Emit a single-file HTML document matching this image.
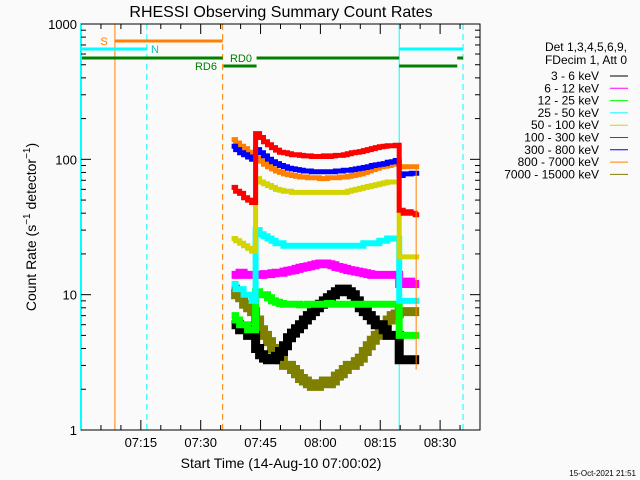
<!DOCTYPE html>
<html><head><meta charset="utf-8">
<style>
html,body{margin:0;padding:0;background:#fafafa;}
svg{display:block;font-family:"Liberation Sans","DejaVu Sans",sans-serif;}
</style></head>
<body>
<svg id="chart" width="640" height="480" viewBox="0 0 640 480">
<rect x="0" y="0" width="640" height="480" fill="#fafafa"/>
<text x="281" y="17" font-size="16" text-anchor="middle" fill="#000">RHESSI Observing Summary Count Rates</text>
<g id="marks"></g>
<g id="axes"></g>
<text transform="translate(36,227) rotate(-90)" font-size="14" text-anchor="middle">Count Rate (s<tspan font-size="10" dy="-6">−1</tspan><tspan dy="6"> detector</tspan><tspan font-size="10" dy="-6">−1</tspan><tspan dy="6">)</tspan></text>
<text x="281" y="468" font-size="14" text-anchor="middle">Start Time (14-Aug-10 07:00:02)</text>
<text x="636" y="476" font-size="8" text-anchor="end">15-Oct-2021 21:51</text>
<g id="legend"></g>
</svg>
<script>
// time bins: minutes after 07:00
const binStart = 38;
const seriesNames = ["3 - 6 keV","6 - 12 keV","12 - 25 keV","25 - 50 keV","50 - 100 keV","100 - 300 keV","300 - 800 keV","800 - 7000 keV","7000 - 15000 keV"];
const seriesColors = ["#000000","#ff00ff","#00ff00","#00ffff","#d4d400","#ff0000","#0000ff","#ff8000","#808000"];
const black = [6,6,5.5,5.5,5,5,4,3.6,3.4,3.3,3.3,3.5,3.8,4.2,4.8,5.2,5.6,6,6.5,7,7.5,8,8.5,9,9.5,10,10.5,11,11,10.5,10,9,8,7.5,7,6.5,6,6,5.5,5,5,5,3.3,3.3,3.3,3.3,3.3];
const magenta = [14,14,14.5,14,14,14,14,14,14.2,14.2,14.4,14.5,14.5,14.8,15,15.2,15.5,15.8,16,16.2,16.5,16.8,17,17,16.8,16.5,16,15.8,15.5,15.2,15,14.8,14.6,14.4,14.2,14,14,14,14,14,14,14,12,12,12.5,12,12];
const green = [7,6.5,6,6,5.5,5.5,10.5,10,10,9.5,9,8.8,8.6,8.5,8.5,8.5,8.5,8.4,8.4,8.5,8.5,8.5,8.5,8.5,8.6,8.5,8.5,8.5,8.5,8.5,8.5,8.5,8.5,8.5,8.5,8.5,8.5,8.5,8.5,8.5,8.5,8.5,5,5,5,5,5];
const cyan = [12,11,11,10,10,9,30,28,27,26,25,24,24,23,23,23,23,23,23,23,23,23,23,23,23,23,23,23,23,23,23,23,23,24,24,24,24,25,25,26,26,26,9,9,9,9,9];
const yellow = [26,25,24,23,22,21,72,68,66,64,62,60,59,58,58,57,57,57,57,57,57,57,57,57,57,57,57,57,57,58,59,60,61,62,63,64,65,66,67,68,68,68,19,19,19,19,19];
const red = [62,58,56,52,50,48,155,145,135,128,122,117,113,112,110,108,108,107,106,106,105,105,105,106,105,106,107,107,108,110,112,113,114,116,118,120,122,124,125,126,126,127,42,40,41,40,39];
const blue = [125,118,112,108,104,100,118,112,106,100,96,93,90,88,86,85,84,83,82,82,81,81,81,81,81,81,82,82,83,83,84,85,86,87,88,90,91,92,93,95,96,98,76,78,78,79,79];
const orange = [140,132,125,120,113,108,102,97,92,88,85,82,80,78,77,76,75,74,74,73,73,73,72,72,73,73,73,74,74,75,76,77,78,80,82,84,86,88,89,90,92,94,88,88,88,88,88];
const olive = [11,10,9.5,8.5,8,7.5,6.5,5.5,5,4.5,4,3.6,3.3,3,3,2.8,2.6,2.4,2.3,2.2,2.1,2.1,2.2,2.3,2.2,2.3,2.5,2.6,2.8,3,3,3.2,3.4,3.8,4.2,4.6,5,5.5,6,6.5,7,7.2,7.5,7.5,7.5,7.5,7.5];
const seriesData = [black,magenta,green,cyan,yellow,red,blue,orange,olive];
const seriesWidths = [9,8,7,6,5,5,5,5,9];
const drawOrder = [8,0,2,1,3,4,7,6,5];
const xTickLabels = ["07:15","07:30","07:45","08:00","08:15","08:30"];
const xTickMinutes = [15,30,45,60,75,90];
const yTickValues = [1,10,100,1000];
const yTickLabels = ["1","10","100","1000"];

const L=81,R=480,T=24,B=430;
const xMin=0,xMax=100;
function xs(m){return L+(m-xMin)/(xMax-xMin)*(R-L);}
function ys(v){return B-(Math.log10(v)-0)/3*(B-T);}
const NS="http://www.w3.org/2000/svg";
function mk(tag,attrs,parent){const e=document.createElementNS(NS,tag);for(const k in attrs)e.setAttribute(k,attrs[k]);parent.appendChild(e);return e;}
const marks=document.getElementById('marks');
const axes=document.getElementById('axes');
const legend=document.getElementById('legend');

function line(x1,y1,x2,y2,c,w,dash,name){
  const e=mk('line',{x1:x1,y1:y1,x2:x2,y2:y2,stroke:c,'stroke-width':w},marks);
  if(dash)e.setAttribute('stroke-dasharray',dash);
  
  
}
line(xs(8.5),T,xs(8.5),B,'#ff8000',1,null,'saa-start-line');
line(xs(16.5),T,xs(16.5),B,'#00ffff',1,'6,4','night-end-line');
line(xs(35.5),T,xs(35.5),B,'#ff8000',1,'6,4','saa-end-line');
line(xs(79.75),T,xs(79.75),B,'#00ffff',1,null,'night-start-line');
line(xs(95.75),T,xs(95.75),B,'#00ffff',1,'6,4','night-end-line-2');
line(xs(8.5),41,xs(35.5),41,'#ff8000',3,null,'saa-bar');
line(L,49,xs(16.5),49,'#00ffff',3,null,'night-bar');
line(xs(79.75),49,xs(95.75),49,'#00ffff',3,null,'night-bar-2');
line(L,58,xs(35.5),58,'#008000',3,null,'rd0-bar');
line(xs(44),58,xs(79.75),58,'#008000',3,null,'rd0-bar-2');
line(xs(94.3),58,xs(95.75),58,'#008000',3,null,'rd0-bar-3');
line(xs(35.7),66,xs(44),66,'#008000',3,null,'rd6-bar');
line(xs(79.75),66,xs(94.3),66,'#008000',3,null,'rd6-bar-2');
function lbl(x,y,t,c,name){const e=mk('text',{x:x,y:y,fill:c,'font-size':11,'text-anchor':'middle'},marks);e.textContent=t;
  
  }
lbl(104,45,'S','#ff8000','saa-label');
lbl(155,53,'N','#00c8c8','night-label');
lbl(241,62,'RD0','#008000','rd0-label');
lbl(206,70,'RD6','#008000','rd6-label');

drawOrder.forEach(function(si){
  const arr=seriesData[si];
  let d='';
  arr.forEach(function(v,i){
    const x0=xs(binStart+i-0.25), x1=xs(binStart+i+0.75), y=ys(v);
    d+=(i===0?'M':'L')+x0.toFixed(1)+','+y.toFixed(1)+'L'+x1.toFixed(1)+','+y.toFixed(1);
  });
  const p=mk('path',{d:d,fill:'none',stroke:seriesColors[si],'stroke-width':seriesWidths[si],'stroke-linejoin':'miter'},marks);
  
  
});
line(xs(84),ys(88),xs(84),ys(2.8),'#ff8000',1,null,'orange-end-line');

const fr=mk('rect',{x:L,y:T,width:R-L,height:B-T,fill:'none',stroke:'#000','stroke-width':1},axes);


const lc=mk('line',{x1:L,y1:T,x2:L,y2:B,stroke:'#00ffff','stroke-width':2},axes);


for(let m=5;m<100;m+=5){
  const major=(m%15===0);const len=major?10:5;const x=xs(m);
  const t1=mk('line',{x1:x,y1:B,x2:x,y2:B-len,stroke:'#000'},axes);
  
  
  const t2=mk('line',{x1:x,y1:T,x2:x,y2:T+len,stroke:'#000'},axes);
  
  
}
xTickMinutes.forEach(function(m,i){
  const t=mk('text',{x:xs(m),y:447,'font-size':13,'text-anchor':'middle'},axes);t.textContent=xTickLabels[i];
  
  
});
for(let d=0;d<3;d++){for(let k=1;k<10;k++){
  const v=k*Math.pow(10,d);if(k===1)continue;const y=ys(v);
  const a=mk('line',{x1:L,y1:y,x2:L+5,y2:y,stroke:'#000'},axes);
  
  
  const b=mk('line',{x1:R,y1:y,x2:R-5,y2:y,stroke:'#000'},axes);
  
  
}}
yTickValues.forEach(function(v,i){
  const y=ys(v);
  const a=mk('line',{x1:L,y1:y,x2:L+10,y2:y,stroke:'#000'},axes);
  
  
  const b=mk('line',{x1:R,y1:y,x2:R-10,y2:y,stroke:'#000'},axes);
  
  
  const t=mk('text',{x:77,y:y+5,'font-size':13,'text-anchor':'end'},axes);t.textContent=yTickLabels[i];
  
  
});

const h1=mk('text',{x:627,y:51,'font-size':12,'text-anchor':'end'},legend);h1.textContent='Det 1,3,4,5,6,9,';


const h2=mk('text',{x:627,y:64,'font-size':12,'text-anchor':'end'},legend);h2.textContent='FDecim 1, Att 0';


seriesNames.forEach(function(n,i){
  const y=76+i*12.3;
  const t=mk('text',{x:599,y:y+4,'font-size':12,'text-anchor':'end'},legend);t.textContent=n;
  
  
  const l=mk('line',{x1:610,y1:y,x2:628,y2:y,stroke:seriesColors[i],'stroke-width':1},legend);
  
  
});
</script>
</body></html>
